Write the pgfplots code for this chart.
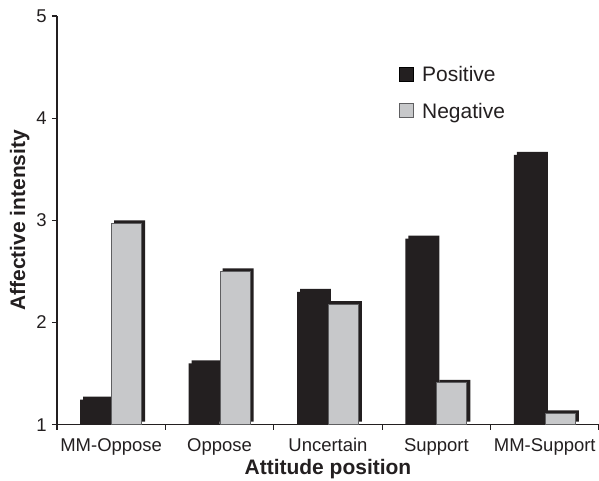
\documentclass[border=0pt]{standalone}
\usepackage{pgfplots}
\usepackage{pgfplotstable}
\pgfplotsset{compat=1.18}
\usepackage{fontspec}
\setmainfont{Liberation Sans}
\definecolor{barblack}{RGB}{35,31,32}
\definecolor{bargray}{RGB}{199,200,202}
\definecolor{edgegray}{RGB}{95,95,97}
\pgfplotstableread{
x val
0 1.245
1 1.60
2 2.30
3 2.82
4 3.64
}\pos
\pgfplotstableread{
x val
0 2.97
1 2.50
2 2.18
3 1.41
4 1.11
}\neg
\begin{document}
\begin{tikzpicture}
\useasboundingbox (-57pt,-56pt) rectangle (542.5pt,425pt);
\begin{axis}[
  at={(0,0)}, anchor=south west, scale only axis,
  width=542.5pt, height=409pt,
  xmin=-0.5, xmax=4.5, ymin=1, ymax=5,
  axis x line*=bottom, axis y line*=left,
  axis line style={line width=1.2pt, barblack},
  xtick={-0.5,0.5,1.5,2.5,3.5,4.5}, xticklabels={},
  extra x ticks={0,1,2,3,4},
  extra x tick labels={MM-Oppose,Oppose,Uncertain,Support,MM-Support},
  extra x tick style={major tick length=0pt},
  ytick={1,2,3,4,5},
  tick align=outside, major tick length=5pt,
  tick style={line width=1.2pt, barblack},
  /pgf/number format/assume math mode=true,
  ticklabel style={font=\fontsize{18.5}{20}\selectfont, text=barblack},
  xticklabel style={anchor=base, yshift=-27pt},
  yticklabel style={inner sep=0pt, anchor=east, xshift=-5pt},
  ylabel={Affective intensity},
  xlabel={Attitude position},
  label style={font=\fontsize{21}{25}\selectfont\bfseries, text=barblack},
  ylabel style={at={(axis description cs:-0.0688,0.5)}, anchor=center, rotate=0},
  xlabel style={at={(axis description cs:0.5,-0.1088)}, anchor=center},
  legend style={draw=none, fill=none, inner sep=0pt, outer sep=0pt,
    at={(axis description cs:0.6304,0.881)}, anchor=north west,
    font=\fontsize{21}{25}\selectfont, text=barblack,
    nodes={inner sep=2pt, text height=15pt, text depth=4.5pt},
    row sep=13pt, column sep=6.5pt},
  legend cell align=left,
  legend image code/.code={\draw[#1] (0pt,-4.75pt) rectangle (14pt,9.25pt);},
]
% shadows
\addplot[ybar, bar width=31pt, bar shift=-12.5pt, fill=barblack, draw=none, yshift=3pt, forget plot] table[x=x,y=val]{\pos};
\addplot[ybar, bar width=31pt, bar shift=18.5pt, fill=barblack, draw=none, yshift=3pt, forget plot] table[x=x,y=val]{\neg};
% main bars
\addplot[ybar, bar width=31pt, bar shift=-15.5pt, fill=barblack, draw=none] table[x=x,y=val]{\pos};
\addlegendentry{Positive}
\addplot[ybar, bar width=30pt, bar shift=15.5pt, fill=bargray, draw=edgegray, line width=1pt] table[x=x,y=val]{\neg};
\addlegendentry{Negative}
\end{axis}
\end{tikzpicture}
\end{document}
